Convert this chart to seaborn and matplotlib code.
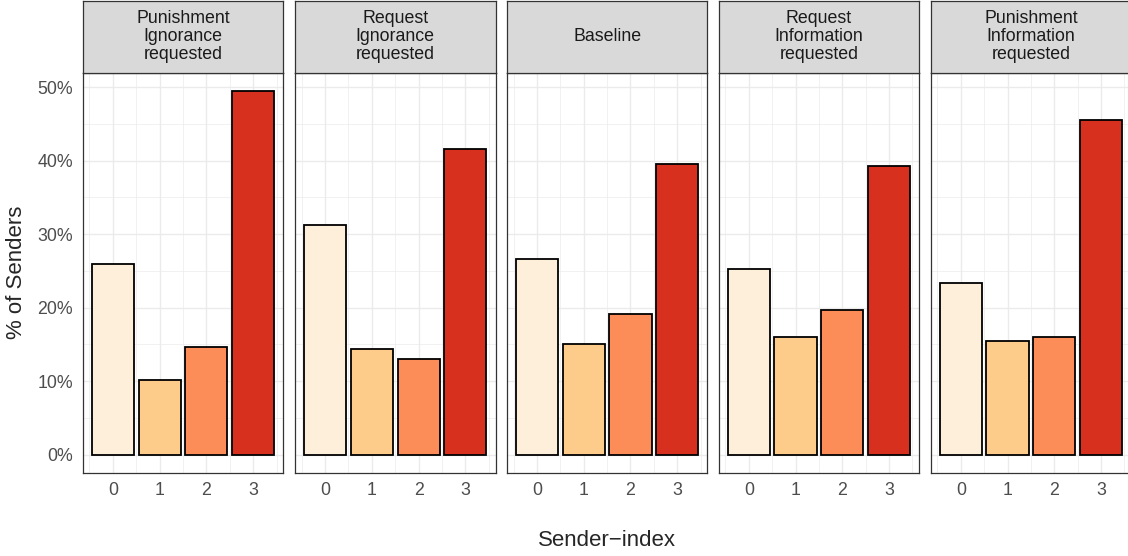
import matplotlib
matplotlib.use("Agg")
import matplotlib.pyplot as plt
import seaborn as sns
import pandas as pd
from matplotlib.ticker import FixedLocator, FuncFormatter

# ============================================================================
# DATA
# ============================================================================
PANELS = ['Punishment\nIgnorance\nrequested',
          'Request\nIgnorance\nrequested',
          'Baseline',
          'Request\nInformation\nrequested',
          'Punishment\nInformation\nrequested']
SENDER_INDEX = [0, 1, 2, 3]

PUN_IGNORANCE = [25.9, 10.1, 14.7, 49.5]
REQ_IGNORANCE = [31.2, 14.3, 13.0, 41.6]
BASELINE = [26.6, 15.0, 19.1, 39.5]
REQ_INFORMATION = [25.3, 16.0, 19.7, 39.3]
PUN_INFORMATION = [23.3, 15.4, 16.0, 45.5]

COLORS = ['#FEEFDB', '#FDCC8A', '#FC8D59', '#D7301F']

SERIES = [PUN_IGNORANCE, REQ_IGNORANCE, BASELINE, REQ_INFORMATION, PUN_INFORMATION]

rows = []
for panel, vals in zip(PANELS, SERIES):
    for idx, v in zip(SENDER_INDEX, vals):
        rows.append({'panel': panel, 'index': idx, 'group': str(idx), 'pct': v})
df = pd.DataFrame(rows)
palette = {str(i): c for i, c in zip(SENDER_INDEX, COLORS)}

# ============================================================================
# FIGURE
# ============================================================================
sns.set_style("white")
plt.rcParams['font.family'] = ['Liberation Sans', 'DejaVu Sans']

W, H = 1128, 556
fig = plt.figure(figsize=(W / 100, H / 100), dpi=100)

LEFTS = [82.7, 294.9, 506.8, 718.6, 930.6]
PW = 200.6
P_TOP, P_BOT = 72.7, 472.7
S_TOP = 1.0

ymax = max(max(s) for s in SERIES)
ylim = (-0.05 * ymax, 1.05 * ymax)

for i, (panel, left) in enumerate(zip(PANELS, LEFTS)):
    ax = fig.add_axes([left / W, 1 - P_BOT / H, PW / W, (P_BOT - P_TOP) / H])
    sub = df[df['panel'] == panel]
    sns.barplot(data=sub, x='index', y='pct', hue='group', palette=palette,
                native_scale=True, width=0.9, dodge=False, saturation=1,
                edgecolor='black', linewidth=1.3, legend=False, ax=ax, zorder=3)
    ax.set_xlim(-0.645, 3.645)
    ax.set_ylim(*ylim)
    ax.set_xlabel('')
    ax.set_ylabel('')

    ax.xaxis.set_major_locator(FixedLocator(SENDER_INDEX))
    ax.xaxis.set_minor_locator(FixedLocator([-0.5, 0.5, 1.5, 2.5, 3.5]))
    ax.yaxis.set_major_locator(FixedLocator([0, 10, 20, 30, 40, 50]))
    ax.yaxis.set_minor_locator(FixedLocator([5, 15, 25, 35, 45]))
    ax.yaxis.set_major_formatter(FuncFormatter(lambda v, p: f'{v:.0f}%'))

    ax.set_axisbelow(True)
    ax.grid(True, which='major', color='#EBEBEB', linewidth=1.0)
    ax.grid(True, which='minor', color='#EBEBEB', linewidth=0.5)
    for sp in ax.spines.values():
        sp.set_color('#333333')
        sp.set_linewidth(0.9)

    ax.tick_params(axis='both', which='major', length=3.5, width=0.8,
                   color='#333333', labelcolor='#4D4D4D', labelsize=12.8, pad=3.5)
    ax.tick_params(axis='both', which='minor', length=0)
    if i > 0:
        ax.tick_params(axis='y', which='major', left=False, labelleft=False)

    strip = fig.add_axes([left / W, 1 - P_TOP / H, PW / W, (P_TOP - S_TOP) / H])
    strip.set_facecolor('#D9D9D9')
    strip.set_xticks([])
    strip.set_yticks([])
    for sp in strip.spines.values():
        sp.set_color('#333333')
        sp.set_linewidth(0.9)
    strip.text(0.5, 0.5, panel, ha='center', va='center', fontsize=12.8,
               color='#1A1A1A', linespacing=1.08, transform=strip.transAxes)

fig.text((LEFTS[0] + LEFTS[-1] + PW) / 2 / W, 1 - 540 / H, 'Sender\u2212index',
         ha='center', va='center', fontsize=16)
fig.text(17 / W, 1 - (P_TOP + P_BOT) / 2 / H, '% of Senders', rotation=90,
         ha='center', va='center', fontsize=16)

fig.savefig('out.png', dpi=100)
